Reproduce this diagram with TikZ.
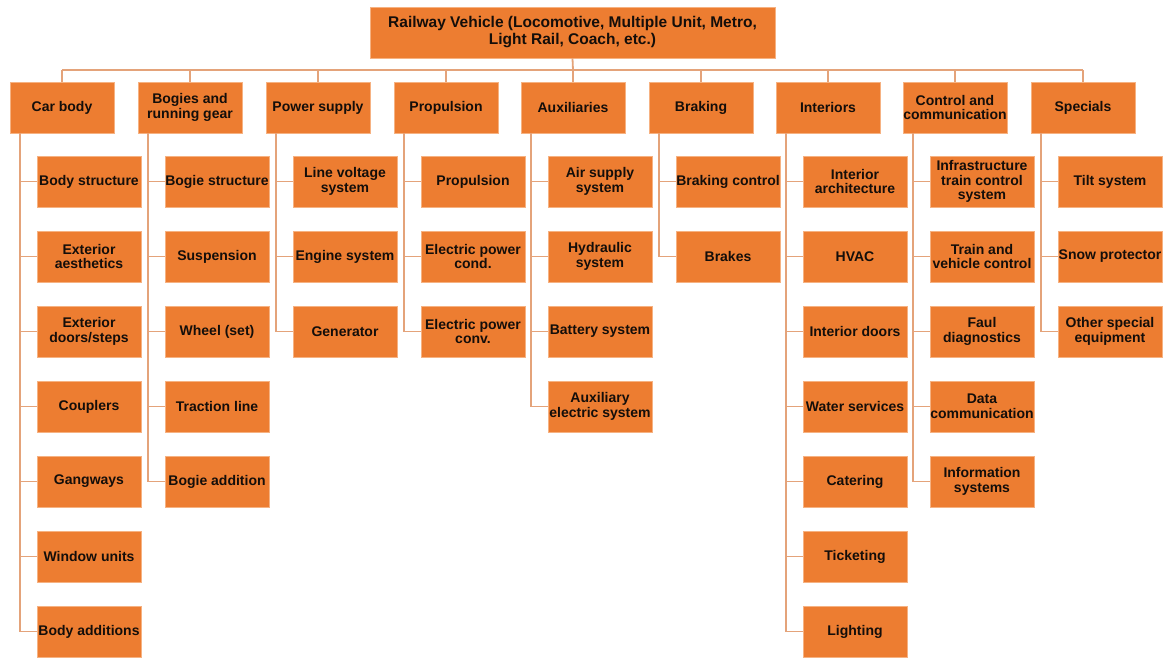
\documentclass[tikz,border=0pt]{standalone}
\usepackage{fontspec}
\setmainfont{Liberation Sans}
\definecolor{boxfill}{RGB}{237,125,49}
\definecolor{boxline}{RGB}{246,178,130}
\definecolor{conn}{RGB}{228,163,122}
\definecolor{txt}{RGB}{20,14,10}
\tikzset{
  box/.style={rectangle, fill=boxfill, draw=boxline, line width=0.8pt,
    minimum width=104pt, minimum height=51pt, inner sep=0pt, align=center,
    text=txt, font=\bfseries\fontsize{14}{14.7}\selectfont},
  rootbox/.style={box, minimum width=405pt, font=\bfseries\fontsize{15.5}{17}\selectfont},
  link/.style={draw=conn, line width=1.8pt},
}
\begin{document}
\begin{tikzpicture}[x=1pt,y=-1pt]
\useasboundingbox (0,0) rectangle (1164,657);
% root
\node[rootbox] (root) at (572.5,32.5) {Railway Vehicle (Locomotive, Multiple Unit, Metro,\\Light Rail, Coach, etc.)};
\coordinate (bus) at (573,70);
% categories
\node[box] (c1) at (62,107.5) {Car body};
\node[box] (c2) at (190,107.5) {Bogies and\\running gear};
\node[box] (c3) at (318,107.5) {Power supply};
\node[box] (c4) at (446,107.5) {Propulsion};
\node[box] (c5) at (573,107.5) {Auxiliaries};
\node[box] (c6) at (701,107.5) {Braking};
\node[box] (c7) at (828,107.5) {Interiors};
\node[box] (c8) at (955,107.5) {Control and\\communication};
\node[box] (c9) at (1083,107.5) {Specials};
% column 1
\node[box] (c1-1) at (89,181.5) {Body structure};
\node[box] (c1-2) at (89,256.5) {Exterior\\aesthetics};
\node[box] (c1-3) at (89,331.5) {Exterior\\doors/steps};
\node[box] (c1-4) at (89,406.5) {Couplers};
\node[box] (c1-5) at (89,481.5) {Gangways};
\node[box] (c1-6) at (89,556.5) {Window units};
\node[box] (c1-7) at (89,631.5) {Body additions};
% column 2
\node[box] (c2-1) at (217,181.5) {Bogie structure};
\node[box] (c2-2) at (217,256.5) {Suspension};
\node[box] (c2-3) at (217,331.5) {Wheel (set)};
\node[box] (c2-4) at (217,406.5) {Traction line};
\node[box] (c2-5) at (217,481.5) {Bogie addition};
% column 3
\node[box] (c3-1) at (345,181.5) {Line voltage\\system};
\node[box] (c3-2) at (345,256.5) {Engine system};
\node[box] (c3-3) at (345,331.5) {Generator};
% column 4
\node[box] (c4-1) at (473,181.5) {Propulsion};
\node[box] (c4-2) at (473,256.5) {Electric power\\cond.};
\node[box] (c4-3) at (473,331.5) {Electric power\\conv.};
% column 5
\node[box] (c5-1) at (600,181.5) {Air supply\\system};
\node[box] (c5-2) at (600,256.5) {Hydraulic\\system};
\node[box] (c5-3) at (600,331.5) {Battery system};
\node[box] (c5-4) at (600,406.5) {Auxiliary\\electric system};
% column 6
\node[box] (c6-1) at (728,181.5) {Braking control};
\node[box] (c6-2) at (728,256.5) {Brakes};
% column 7
\node[box] (c7-1) at (855,181.5) {Interior\\architecture};
\node[box] (c7-2) at (855,256.5) {HVAC};
\node[box] (c7-3) at (855,331.5) {Interior doors};
\node[box] (c7-4) at (855,406.5) {Water services};
\node[box] (c7-5) at (855,481.5) {Catering};
\node[box] (c7-6) at (855,556.5) {Ticketing};
\node[box] (c7-7) at (855,631.5) {Lighting};
% column 8
\node[box] (c8-1) at (982,181.5) {Infrastructure\\train control\\system};
\node[box] (c8-2) at (982,256.5) {Train and\\vehicle control};
\node[box] (c8-3) at (982,331.5) {Faul\\diagnostics};
\node[box] (c8-4) at (982,406.5) {Data\\communication};
\node[box] (c8-5) at (982,481.5) {Information\\systems};
% column 9
\node[box] (c9-1) at (1110,181.5) {Tilt system};
\node[box] (c9-2) at (1110,256.5) {Snow protector};
\node[box] (c9-3) at (1110,331.5) {Other special\\equipment};
% bus
\draw[link] (root.south) -- (bus);
\draw[link] (c1.north |- bus) -- (c9.north |- bus);
\foreach \i in {1,...,9} \draw[link] (c\i.north) -- (c\i.north |- bus);
% branches
\foreach \c/\n in {1/7,2/5,3/3,4/3,5/4,6/2,7/7,8/5,9/3}{
  \foreach \k in {1,...,\n}
    \draw[link] ([xshift=10pt]c\c.south west) |- (c\c-\k.west);
}
\end{tikzpicture}
\end{document}
